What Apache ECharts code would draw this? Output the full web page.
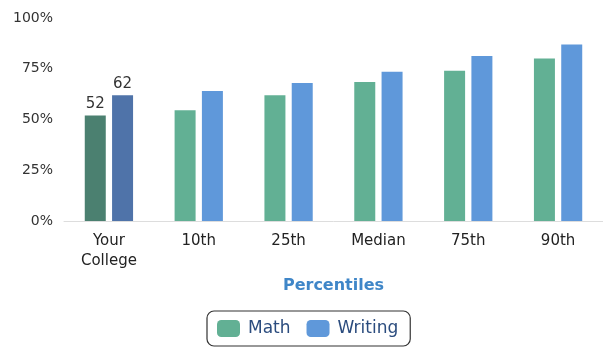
<!DOCTYPE html>
<html>
<head>
    <meta charset="utf-8">
    <title>Percentiles</title>
    <script src="https://cdn.jsdelivr.net/npm/echarts@6/dist/echarts.min.js"></script>
    <style>
        html, body { margin: 0; padding: 0; background: #ffffff; }
        #chart { width: 603px; height: 349px; }
    </style>
</head>
<body>
<div id="chart"></div>
<script>
    var categories = ['Your\nCollege', '10th', '25th', 'Median', '75th', '90th'];
    var mathValues = [52, 54.5, 62, 68.5, 74, 80];
    var writingValues = [62, 64, 68, 73.5, 81.3, 87];
    var yTicks = [0, 25, 50, 75, 100];

    var mathColor = '#62b094';
    var writingColor = '#5f98da';
    // "Your College" bars are drawn darker
    var mathDark = '#4b8070';
    var writingDark = '#4f73a9';

    function buildData(values, dark) {
        return values.map(function (v, i) {
            if (i === 0) {
                return {
                    value: v,
                    itemStyle: { color: dark },
                    label: { show: true, position: 'top', distance: 4, color: '#333', fontSize: 15 }
                };
            }
            return v;
        });
    }

    var chart = echarts.init(document.getElementById('chart'));
    var font = 'DejaVu Sans';

    chart.setOption({
        animation: false,
        textStyle: { fontFamily: font },
        grid: { left: 64, top: 18, width: 540, height: 203 },
        legend: {
            data: ['Math', 'Writing'],
            left: 207,
            top: 311,
            padding: [9, 12, 9, 10],
            itemWidth: 23,
            itemHeight: 17,
            itemGap: 16,
            borderColor: '#333',
            borderWidth: 1.2,
            borderRadius: 7,
            icon: 'roundRect',
            textStyle: { color: '#2b4c7e', fontSize: 17, fontFamily: font, padding: [0, 0, 0, 3] }
        },
        xAxis: {
            type: 'category',
            data: categories,
            name: 'Percentiles',
            nameLocation: 'middle',
            nameGap: 57,
            nameTextStyle: { color: '#3f86c8', fontSize: 16, fontWeight: 'bold', fontFamily: font },
            axisLine: { lineStyle: { color: '#dddddd' } },
            axisTick: { show: false },
            axisLabel: { color: '#222', fontSize: 15, margin: 10, lineHeight: 20, fontFamily: font }
        },
        yAxis: {
            type: 'value',
            min: yTicks[0],
            max: yTicks[yTicks.length - 1],
            interval: 25,
            splitLine: { show: false },
            axisLine: { show: false },
            axisTick: { show: false },
            axisLabel: { color: '#333', fontSize: 14, margin: 11, formatter: '{value}%', fontFamily: font }
        },
        series: [
            {
                name: 'Math',
                type: 'bar',
                barWidth: 21,
                barGap: '30%',
                itemStyle: { color: mathColor },
                data: buildData(mathValues, mathDark)
            },
            {
                name: 'Writing',
                type: 'bar',
                barWidth: 21,
                barGap: '30%',
                itemStyle: { color: writingColor },
                data: buildData(writingValues, writingDark)
            }
        ]
    });
</script>
</body>
</html>
